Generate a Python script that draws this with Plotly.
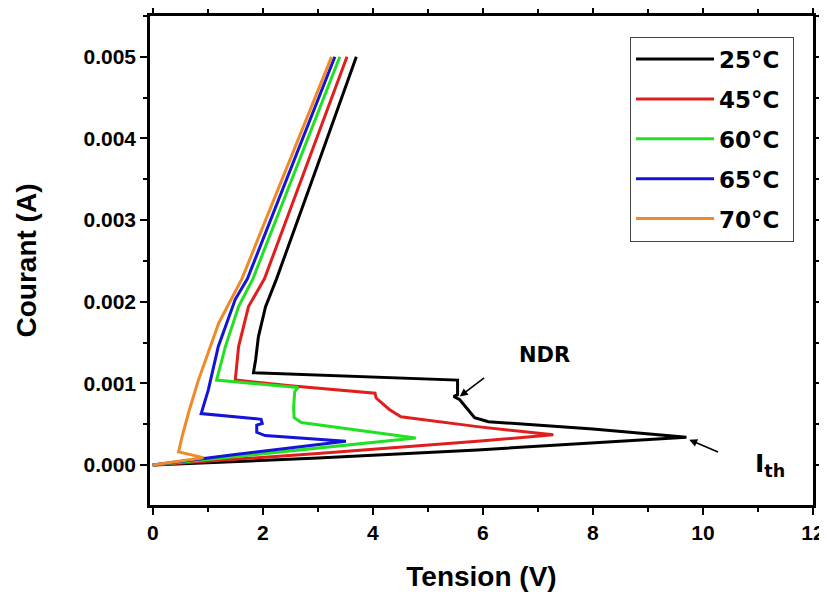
import plotly.graph_objects as go

# ---- data (voltage in V, current in mA; converted to A below) ----
labels = ["25°C", "45°C", "60°C", "65°C", "70°C"]
colors = ["#000000", "#E01E1E", "#22E022", "#1414D8", "#F08A28"]

v25 = [0, 3.0, 5.9, 9.7, 8.0, 6.1, 5.85, 5.7, 5.58, 5.47, 5.54, 5.54, 3.5, 1.83, 1.87, 1.92, 2.05, 2.25, 3.0, 3.70]
i25 = [0, 0.085, 0.185, 0.34, 0.44, 0.53, 0.58, 0.70, 0.80, 0.84, 0.86, 1.04, 1.09, 1.13, 1.29, 1.57, 1.94, 2.28, 3.68, 5.0]

v45 = [0, 3.0, 5.9, 7.28, 5.9, 4.51, 4.3, 4.06, 4.04, 2.5, 1.50, 1.56, 1.74, 2.03, 3.53]
i45 = [0, 0.14, 0.29, 0.37, 0.47, 0.59, 0.68, 0.82, 0.88, 0.97, 1.04, 1.45, 1.94, 2.28, 5.0]

v60 = [0, 2.5, 4.78, 2.70, 2.57, 2.56, 2.58, 2.64, 1.16, 1.32, 1.56, 1.82, 3.40]
i60 = [0, 0.17, 0.33, 0.52, 0.58, 0.70, 0.90, 0.95, 1.04, 1.45, 1.94, 2.28, 5.0]

v65 = [0, 1.5, 3.51, 2.04, 1.89, 1.89, 1.99, 1.97, 0.88, 1.01, 1.19, 1.50, 1.72, 3.31]
i65 = [0, 0.13, 0.29, 0.36, 0.40, 0.49, 0.51, 0.56, 0.63, 0.92, 1.45, 2.03, 2.28, 5.0]

v70 = [0, 0.5, 0.92, 0.47, 0.53, 0.65, 0.83, 1.20, 1.62, 3.25]
i70 = [0, 0.05, 0.09, 0.16, 0.34, 0.64, 1.04, 1.74, 2.28, 5.0]

x_ticks = [0, 2, 4, 6, 8, 10, 12]
y_ticks = [0.000, 0.001, 0.002, 0.003, 0.004, 0.005]

series_v = [v25, v45, v60, v65, v70]
series_i = [i25, i45, i60, i65, i70]

fig = go.Figure()
for k, (lab, col, vv, ii) in enumerate(zip(labels, colors, series_v, series_i)):
    fig.add_trace(go.Scatter(
        x=vv, y=[c / 1000.0 for c in ii], mode="lines", name=lab + "\u00a0",
        legendgroup=lab,
        line=dict(color=col, width=3),
    ))

axis_font = dict(family="Liberation Sans, Arial", size=21, color="black", weight="bold")
title_font = dict(family="Liberation Sans, Arial", size=28, color="black", weight="bold")

# page body has an 8px default margin, so the figure is drawn 8px smaller
fig.update_layout(
    width=819, height=590,
    margin=dict(l=142, r=14, t=8, b=93),
    plot_bgcolor="white", paper_bgcolor="white",
    showlegend=True,
    legend=dict(
        x=0.724, y=0.958, xanchor="left", yanchor="top",
        bordercolor="#444444", borderwidth=1, bgcolor="white",
        font=dict(family="DejaVu Sans", size=23, color="black", weight="bold"),
        tracegroupgap=7, itemwidth=78,
    ),
    xaxis=dict(
        range=[-0.05, 12.0], tickvals=x_ticks, ticktext=[str(t) for t in x_ticks],
        showline=True, linewidth=2.5, linecolor="black", mirror="ticks",
        ticks="outside", ticklen=7, tickwidth=2.2, tickcolor="black",
        minor=dict(ticks="outside", dtick=1, ticklen=4, tickwidth=2, tickcolor="black"),
        showgrid=False, zeroline=False, automargin=False,
        tickfont=axis_font,
        title=dict(text="Tension (V)", font=title_font, standoff=24),
    ),
    yaxis=dict(
        range=[-0.00049, 0.0055], tickvals=y_ticks, ticktext=["%.3f" % t for t in y_ticks],
        showline=True, linewidth=2.5, linecolor="black", mirror="ticks",
        ticks="outside", ticklen=7, tickwidth=2.2, tickcolor="black",
        minor=dict(ticks="outside", dtick=0.0005, ticklen=4, tickwidth=2, tickcolor="black"),
        showgrid=False, zeroline=False, automargin=False,
        tickfont=axis_font,
        title=dict(text="Courant (A)", font=title_font, standoff=39),
    ),
    annotations=[
        dict(x=5.58, y=0.00084, ax=6.05, ay=0.00108, xref="x", yref="y", axref="x", ayref="y",
             text="", showarrow=True, arrowhead=2, arrowsize=1, arrowwidth=1.6, arrowcolor="black"),
        dict(x=7.12, y=0.00135, xref="x", yref="y", text="NDR", showarrow=False,
             font=dict(family="DejaVu Sans", size=21, color="black", weight="bold")),
        dict(x=9.75, y=0.00031, ax=10.3, ay=0.00015, xref="x", yref="y", axref="x", ayref="y",
             text="", showarrow=True, arrowhead=2, arrowsize=1, arrowwidth=1.6, arrowcolor="black"),
        dict(x=11.22, y=0.0000, xref="x", yref="y", text="I<sub>th</sub>", showarrow=False,
             font=dict(family="DejaVu Sans", size=25, color="black", weight="bold")),
    ],
)

fig.write_html("out.html")
